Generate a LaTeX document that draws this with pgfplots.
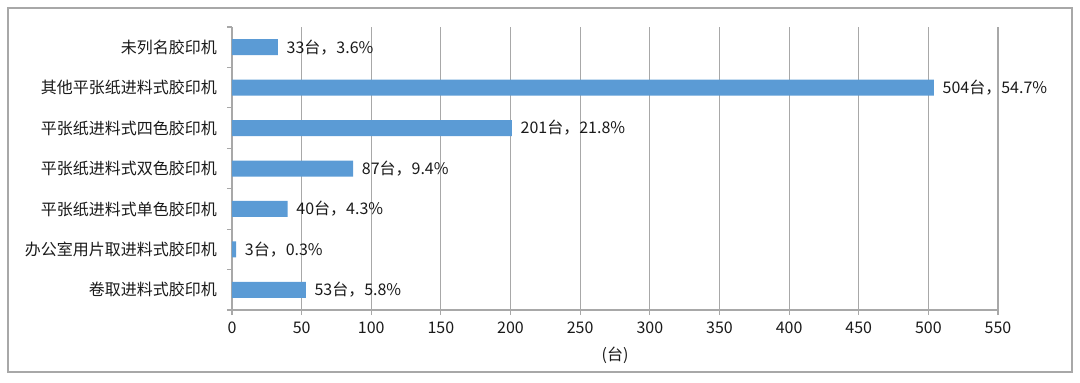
\documentclass[border=0pt]{standalone}
\usepackage{fontspec}
\setmainfont{Noto Sans CJK SC}
\usepackage{pgfplots}
\pgfplotsset{compat=1.18}
\definecolor{barblue}{HTML}{5B9BD5}
\definecolor{gridgray}{HTML}{A8A8A8}
\definecolor{txt}{HTML}{1A1A1A}
\begin{document}
\begin{tikzpicture}
\path[use as bounding box] (-174pt,-54pt) rectangle (636pt,232.5pt);
\draw[gridgray, line width=0.8pt] (-168pt,-46.5pt) rectangle (630pt,226.5pt);
\begin{axis}[
  at={(0pt,0pt)}, anchor=south west,
  scale only axis, width=574.5pt, height=212.25pt,
  xbar, bar width=12pt,
  xmin=0, xmax=550, ymin=-0.5, ymax=6.5,
  xtick={0,50,...,550},
  ytick={0,1,2,3,4,5,6},
  yticklabels={卷取进料式胶印机,办公室用片取进料式胶印机,平张纸进料式单色胶印机,平张纸进料式双色胶印机,平张纸进料式四色胶印机,其他平张纸进料式胶印机,未列名胶印机},
  minor ytick={-0.5,0.5,1.5,2.5,3.5,4.5,5.5,6.5},
  axis x line=bottom, axis y line=left,
  axis line style={gridgray, line width=0.8pt, -},
  xmajorgrids, major grid style={gridgray, line width=0.8pt},
  tick align=outside,
  major tick length=3.75pt, minor tick length=3.75pt,
  major y tick style={draw=none},
  minor y tick style={gridgray, line width=0.8pt},
  major x tick style={gridgray, line width=0.8pt},
  /pgf/number format/assume math mode=true,
  tick label style={font=\fontsize{12}{14}\selectfont, text=txt},
  yticklabel style={xshift=-4pt},
  xticklabel style={yshift=-2pt},
  xlabel={(台)},
  xlabel style={font=\fontsize{12}{14}\selectfont, text=txt, yshift=-3pt},
  nodes near coords,
  point meta=explicit symbolic,
  every node near coord/.append style={font=\fontsize{12}{14}\selectfont, text=txt, anchor=west, xshift=3pt},
]
\addplot[fill=barblue, draw=none] coordinates {
  (53,0) [53台，5.8\%]
  (3,1) [3台，0.3\%]
  (40,2) [40台，4.3\%]
  (87,3) [87台，9.4\%]
  (201,4) [201台，21.8\%]
  (504,5) [504台，54.7\%]
  (33,6) [33台，3.6\%]
};
\end{axis}
\end{tikzpicture}
\end{document}
